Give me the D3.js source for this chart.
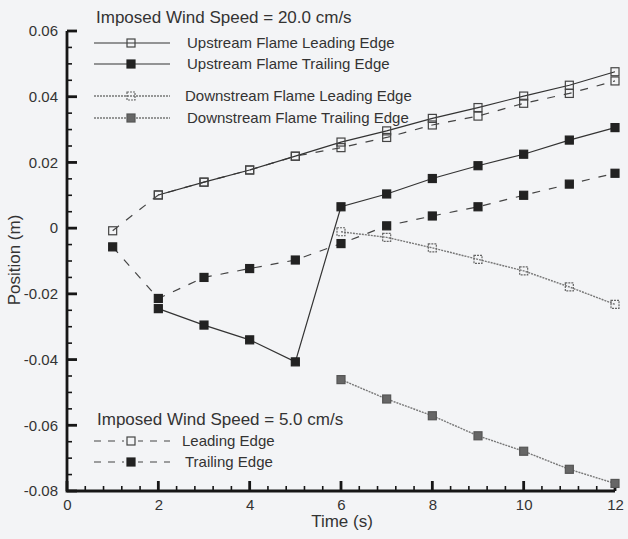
<!DOCTYPE html>
<html>
<head>
<meta charset="utf-8">
<script src="https://cdn.jsdelivr.net/npm/d3@7.9.0/dist/d3.min.js"></script>
<style>
  body { margin: 0; background: #f3f4f6; }
  svg { display: block; font-family: "Liberation Sans", Arial, sans-serif; }
  .tick text { font-size: 15px; fill: #333; }
</style>
</head>
<body>
<svg id="chart" width="628" height="539"></svg>
<script>
// 20 cm/s wind
const timesUp = [2, 3, 4, 5, 6, 7, 8, 9, 10, 11, 12];
const upLead = [0.0101, 0.014, 0.0177, 0.0219, 0.0262, 0.0296, 0.0334, 0.0367, 0.0402, 0.0435, 0.0476];
const upTrail = [-0.0245, -0.0295, -0.034, -0.0407, 0.0065, 0.0104, 0.0151, 0.019, 0.0225, 0.0268, 0.0306];
const timesDown = [6, 7, 8, 9, 10, 11, 12];
const downLead = [-0.0011, -0.0028, -0.006, -0.0095, -0.013, -0.0179, -0.0232];
const downTrail = [-0.0461, -0.052, -0.0571, -0.0632, -0.0679, -0.0734, -0.0777];
// 5 cm/s wind
const times5 = [1, 2, 3, 4, 5, 6, 7, 8, 9, 10, 11, 12];
const lead5 = [-0.0008, 0.0101, 0.014, 0.0177, 0.0219, 0.0245, 0.0276, 0.0314, 0.0341, 0.038, 0.041, 0.0448];
const trail5 = [-0.0057, -0.0214, -0.015, -0.0123, -0.0097, -0.0047, 0.0007, 0.0037, 0.0065, 0.01, 0.0134, 0.0167];

const xTicks = [0, 2, 4, 6, 8, 10, 12];
const yTicks = [-0.08, -0.06, -0.04, -0.02, 0, 0.02, 0.04, 0.06];

const svg = d3.select('#chart');
const x = d3.scaleLinear().domain([0, 12]).range([67, 615]);
const y = d3.scaleLinear().domain([-0.08, 0.06]).range([491, 31]);

const ink = '#161616';
const isMajor = (arr, d) => arr.some(t => Math.abs(t - d) < 1e-6);

// tick labels from d3 axes
const fmt = d => Math.abs(d) < 1e-9 ? '0' : d.toFixed(2);
svg.append('g')
  .attr('transform', 'translate(67,0)')
  .call(d3.axisLeft(y).tickValues(yTicks).tickSize(0).tickPadding(9).tickFormat(fmt))
  .call(g => g.select('.domain').remove());
svg.append('g')
  .attr('transform', 'translate(0,491)')
  .call(d3.axisBottom(x).tickValues(xTicks).tickSize(0).tickPadding(8))
  .call(g => g.select('.domain').remove());

// axis lines and ticks (major + minor, pointing inward)
const yMinor = d3.range(-0.08, 0.0601, 0.005);
const xMinor = d3.range(0, 12.01, 0.4);
const axisG = svg.append('g');
axisG.selectAll('path.ytick').data(yMinor).join('path')
  .attr('class', 'ytick')
  .attr('d', d => `M${x(0)},${y(d)}h${isMajor(yTicks, d) ? 10 : 5}`)
  .style('stroke', ink).style('fill', 'none')
  .style('stroke-width', d => isMajor(yTicks, d) ? '2.8px' : '1.6px');
axisG.selectAll('path.xtick').data(xMinor).join('path')
  .attr('class', 'xtick')
  .attr('d', d => `M${x(d)},${y(-0.08)}v${isMajor(xTicks, d) ? -10 : -5}`)
  .style('stroke', ink).style('fill', 'none')
  .style('stroke-width', d => isMajor(xTicks, d) ? '2.8px' : '1.6px');
axisG.append('path')
  .attr('d', `M${x(0)},${y(0.06)}V${y(-0.08)}H${x(12)}`)
  .style('stroke', ink).style('fill', 'none').style('stroke-width', '2.8px');

svg.append('text').attr('x', 342).attr('y', 527).attr('text-anchor', 'middle')
  .attr('font-size', 17).attr('fill', '#333').text('Time (s)');
svg.append('text').attr('transform', 'translate(20,260) rotate(-90)').attr('text-anchor', 'middle')
  .attr('font-size', 17).attr('fill', '#333').text('Position (m)');

const styles = {
  upLead:    { stroke: '#333', dash: null, width: 1.2, fill: 'none', mstroke: '#444', mdash: null },
  upTrail:   { stroke: '#333', dash: null, width: 1.2, fill: '#222', mstroke: '#222', mdash: null },
  downLead:  { stroke: '#777', dash: '2,1', width: 1.4, fill: 'none', mstroke: '#666', mdash: '2,1' },
  downTrail: { stroke: '#777', dash: '2,1', width: 1.4, fill: '#666', mstroke: '#555', mdash: null },
  lead5:     { stroke: '#444', dash: '8,9', width: 1.2, fill: 'none', mstroke: '#444', mdash: null },
  trail5:    { stroke: '#444', dash: '8,9', width: 1.2, fill: '#222', mstroke: '#222', mdash: null }
};

function drawSeries(ts, vs, st) {
  const pts = ts.map((t, i) => [t, vs[i]]);
  svg.append('path')
    .attr('d', d3.line().x(d => x(d[0])).y(d => y(d[1]))(pts))
    .attr('fill', 'none').attr('stroke', st.stroke).attr('stroke-width', st.width)
    .attr('stroke-dasharray', st.dash);
  svg.append('g').selectAll('rect').data(pts).join('rect')
    .attr('x', d => x(d[0]) - 4).attr('y', d => y(d[1]) - 4)
    .attr('width', 8).attr('height', 8)
    .attr('fill', st.fill).attr('stroke', st.mstroke).attr('stroke-width', 1.2)
    .attr('stroke-dasharray', st.mdash);
}

drawSeries(times5, lead5, styles.lead5);
drawSeries(times5, trail5, styles.trail5);
drawSeries(timesDown, downLead, styles.downLead);
drawSeries(timesDown, downTrail, styles.downTrail);
drawSeries(timesUp, upLead, styles.upLead);
drawSeries(timesUp, upTrail, styles.upTrail);

// legends
function legendRow(yy, st, label, tx) {
  svg.append('line').attr('x1', 94).attr('x2', 170).attr('y1', yy).attr('y2', yy)
    .attr('stroke', st.stroke).attr('stroke-width', st.width)
    .attr('stroke-dasharray', st.dash === '8,9' ? '7,7' : st.dash);
  if (st.dash === '8,9') {
    svg.append('rect').attr('x', 124).attr('y', yy - 5).attr('width', 14).attr('height', 10).attr('fill', '#f3f4f6');
  }
  svg.append('rect').attr('x', 127).attr('y', yy - 4).attr('width', 8).attr('height', 8)
    .attr('fill', st.fill).attr('stroke', st.mstroke).attr('stroke-width', 1.2)
    .attr('stroke-dasharray', st.mdash);
  svg.append('text').attr('x', tx).attr('y', yy + 5).attr('font-size', 15).attr('fill', '#333').text(label);
}

svg.append('text').attr('x', 96).attr('y', 23).attr('font-size', 17).attr('fill', '#333')
  .text('Imposed Wind Speed = 20.0 cm/s');
legendRow(43, styles.upLead, 'Upstream Flame Leading Edge', 187);
legendRow(64, styles.upTrail, 'Upstream Flame Trailing Edge', 187);
legendRow(96, styles.downLead, 'Downstream Flame Leading Edge', 185);
legendRow(118, styles.downTrail, 'Downstream Flame Trailing Edge', 187);

svg.append('text').attr('x', 97).attr('y', 425).attr('font-size', 17).attr('fill', '#333')
  .text('Imposed Wind Speed = 5.0 cm/s');
legendRow(441, styles.lead5, 'Leading Edge', 182);
legendRow(462, styles.trail5, 'Trailing Edge', 185);
</script>
</body>
</html>
